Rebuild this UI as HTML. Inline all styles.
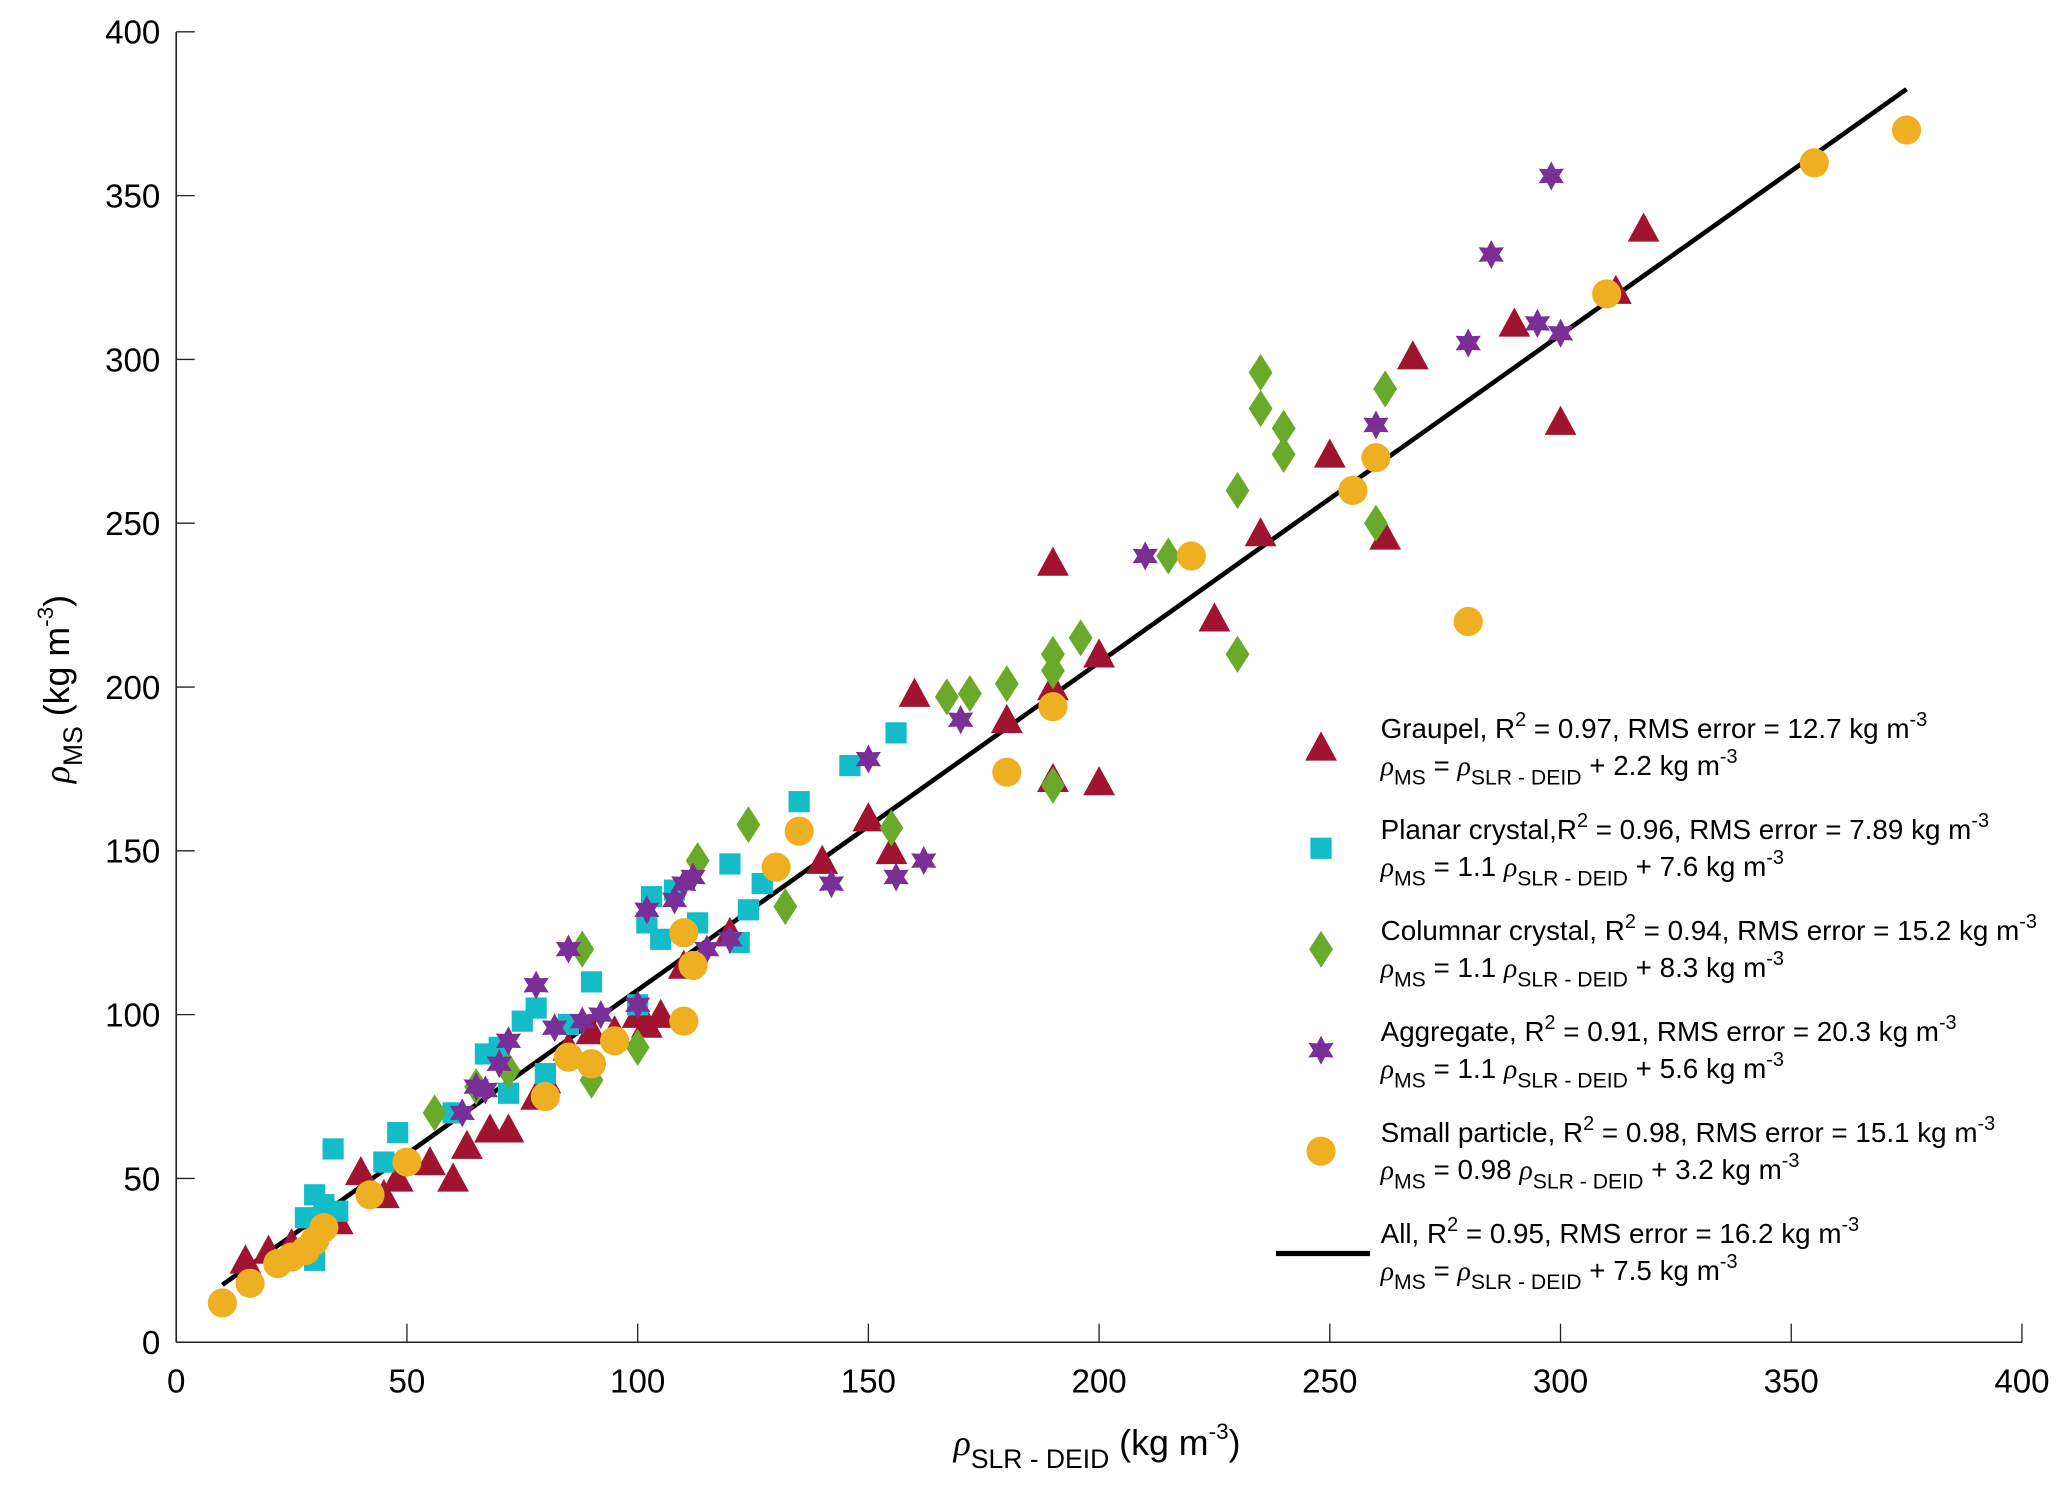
<!DOCTYPE html>
<html><head><meta charset="utf-8"><style>
html,body{margin:0;padding:0;background:#fff}
svg{display:block;font-family:"Liberation Sans",Arial,sans-serif}
</style></head><body>
<svg id="chart" width="2067" height="1488" viewBox="0 0 1560 1123" xmlns="http://www.w3.org/2000/svg">
<rect width="1560" height="1123" fill="#fff"/>
<g id="axes"></g>
<g id="fitline"></g>
<g id="marks"></g>
<text x="828" y="1098" text-anchor="middle" font-size="27"><tspan font-style="italic" font-family="Liberation Serif">ρ</tspan><tspan font-size="20" dy="10">SLR - DEID</tspan><tspan dy="-10"> (kg m</tspan><tspan font-size="17" dy="-12">-3</tspan><tspan dy="12">)</tspan></text>
<text transform="translate(52,520) rotate(-90)" text-anchor="middle" font-size="27"><tspan font-style="italic" font-family="Liberation Serif">ρ</tspan><tspan font-size="20" dy="10">MS</tspan><tspan dy="-10"> (kg m</tspan><tspan font-size="17" dy="-12">-3</tspan><tspan dy="12">)</tspan></text>
<g id="legend" font-size="21"></g>
</svg>
<script>
const xTicks=[0,50,100,150,200,250,300,350,400];
const yTicks=[0,50,100,150,200,250,300,350,400];
const graupelX=[15,20,25,30,35,40,45,48,55,60,63,68,72,78,80,85,90,95,100,102,105,110,120,140,150,155,160,180,190,190,190,200,200,225,235,250,262,268,290,300,312,318];
const graupelY=[25,28,30,35,37,52,45,50,55,50,60,65,65,75,80,90,95,95,100,97,100,115,125,147,160,150,198,190,238,200,172,210,171,221,247,271,246,301,311,281,321,340];
const planarX=[28,30,30,32,34,35,45,48,60,67,70,72,75,78,80,85,90,100,102,103,105,108,113,120,122,124,127,135,146,156];
const planarY=[38,25,45,42,59,40,55,64,70,88,90,76,98,102,82,97,110,103,128,136,123,138,128,146,122,132,140,165,176,186];
const columnarX=[56,65,72,88,90,100,113,124,132,155,167,172,180,190,190,190,196,215,230,230,235,235,240,240,260,262];
const columnarY=[70,78,83,120,80,90,147,158,133,157,197,198,201,210,205,170,215,240,260,210,296,285,279,271,250,291];
const aggX=[62,65,67,70,72,78,82,85,88,92,100,102,108,110,112,115,120,142,150,156,162,170,210,260,280,285,295,298,300];
const aggY=[70,78,77,85,92,109,96,120,98,100,103,132,135,140,142,120,123,140,178,142,147,190,240,280,305,332,311,356,308];
const smallX=[10,16,22,25,28,30,32,42,50,80,85,90,95,110,110,112,130,135,180,190,220,255,260,280,310,355,375];
const smallY=[12,18,24,26,28,31,35,45,55,75,87,85,92,98,125,115,145,156,174,194,240,260,270,220,320,360,370];
const fitX=[10,375];
const fitSlope=1.0, fitIntercept=7.5;

const NS="http://www.w3.org/2000/svg";
const X0=133,X1=1526,Y0=1013,Y1=24;
function xs(v){return X0+(v-0)/400*(X1-X0);}
function ys(v){return Y0-(v-0)/400*(Y0-Y1);}
function mk(tag,attrs,parent){const e=document.createElementNS(NS,tag);for(const k in attrs)e.setAttribute(k,attrs[k]);parent.appendChild(e);return e;}

const axes=document.getElementById('axes');
const xl=mk('line',{x1:X0,y1:Y0,x2:X1,y2:Y0,stroke:'#222','stroke-width':1.2},axes);


const yl=mk('line',{x1:X0,y1:Y0,x2:X0,y2:Y1,stroke:'#222','stroke-width':1.2},axes);


xTicks.forEach(t=>{
  mk('line',{x1:xs(t),y1:Y0,x2:xs(t),y2:Y0-14,stroke:'#222','stroke-width':1},axes);
  const tx=mk('text',{x:xs(t),y:Y0+38,'text-anchor':'middle','font-size':25},axes);
  tx.textContent=t;
  
  
});
yTicks.forEach(t=>{
  mk('line',{x1:X0,y1:ys(t),x2:X0+14,y2:ys(t),stroke:'#222','stroke-width':1},axes);
  const tx=mk('text',{x:X0-12,y:ys(t)+9,'text-anchor':'end','font-size':25},axes);
  tx.textContent=t;
  
  
});

function tri(cx,cy,p,c){return mk('polygon',{points:`${cx},${cy-12} ${cx-12},${cy+10} ${cx+12},${cy+10}`,fill:c},p);}
function sq(cx,cy,p,c){return mk('rect',{x:cx-8,y:cy-8,width:16,height:16,fill:c},p);}
function dia(cx,cy,p,c){return mk('polygon',{points:`${cx},${cy-14} ${cx+9},${cy} ${cx},${cy+14} ${cx-9},${cy}`,fill:c},p);}
function star(cx,cy,p,c){const r=11,r2=6;let pts=[];for(let i=0;i<12;i++){const a=-Math.PI/2+i*Math.PI/6;const rr=i%2?r2:r;pts.push((cx+rr*Math.cos(a)).toFixed(1)+','+(cy+rr*Math.sin(a)).toFixed(1));}return mk('polygon',{points:pts.join(' '),fill:c},p);}
function circ(cx,cy,p,c){return mk('ellipse',{cx:cx,cy:cy,rx:11,ry:11,fill:c},p);}

const marks=document.getElementById('marks');
const series=[
 ['graupel',graupelX,graupelY,tri,'#a01432'],
 ['planar',planarX,planarY,sq,'#12bcc8'],
 ['columnar',columnarX,columnarY,dia,'#6aaa2a'],
 ['aggregate',aggX,aggY,star,'#7a2f96'],
 ['small',smallX,smallY,circ,'#eeb022']];
series.forEach(s=>{
  const g=mk('g',{},marks);
  
  
  s[1].forEach((x,i)=>{
    const el=s[3](xs(x),ys(s[2][i]),g,s[4]);
    
    
  });
});
const fl=mk('line',{x1:xs(fitX[0]),y1:ys(fitSlope*fitX[0]+fitIntercept),x2:xs(fitX[1]),y2:ys(fitSlope*fitX[1]+fitIntercept),stroke:'#000','stroke-width':3.5},document.getElementById('fitline'));



const leg=document.getElementById('legend');
const R='<tspan font-style="italic" font-family="Liberation Serif">ρ</tspan>';
const MS=R+'<tspan font-size="16" dy="7">MS</tspan><tspan dy="-7"> = </tspan>';
const SLR=R+'<tspan font-size="16" dy="7">SLR - DEID</tspan><tspan dy="-7"> ';
const KG='kg m</tspan><tspan font-size="15" dy="-9">-3</tspan>';
const entries=[
 ['graupel',tri,'#a01432','Graupel, R<tspan font-size="15" dy="-9">2</tspan><tspan dy="9"> = 0.97, RMS error = 12.7 '+KG, MS+SLR+'+ 2.2 '+KG],
 ['planar',sq,'#12bcc8','Planar crystal,R<tspan font-size="15" dy="-9">2</tspan><tspan dy="9"> = 0.96, RMS error = 7.89 '+KG, MS+'<tspan>1.1 </tspan>'+SLR+'+ 7.6 '+KG],
 ['columnar',dia,'#6aaa2a','Columnar crystal, R<tspan font-size="15" dy="-9">2</tspan><tspan dy="9"> = 0.94, RMS error = 15.2 '+KG, MS+'<tspan>1.1 </tspan>'+SLR+'+ 8.3  '+KG],
 ['aggregate',star,'#7a2f96','Aggregate, R<tspan font-size="15" dy="-9">2</tspan><tspan dy="9"> = 0.91, RMS error = 20.3 '+KG, MS+'<tspan>1.1 </tspan>'+SLR+'+ 5.6 '+KG],
 ['small',circ,'#eeb022','Small particle, R<tspan font-size="15" dy="-9">2</tspan><tspan dy="9"> = 0.98, RMS error = 15.1 '+KG, MS+'<tspan>0.98 </tspan>'+SLR+'+ 3.2 '+KG],
 ['all',null,'#000','All, R<tspan font-size="15" dy="-9">2</tspan><tspan dy="9"> = 0.95, RMS error = 16.2 '+KG, MS+SLR+'+ 7.5 '+KG]];
entries.forEach((e,i)=>{
  const y=557+i*76.2;
  const g=mk('g',{},leg);
  
  
  if(e[1]) e[1](997,y+7,g,e[2]);
  else mk('line',{x1:963,y1:y+8,x2:1034,y2:y+8,stroke:'#000','stroke-width':4},g);
  const t1=mk('text',{x:1042,y:y},g); t1.innerHTML=e[3];
  const t2=mk('text',{x:1042,y:y+28},g); t2.innerHTML=e[4];
});
</script>
</body></html>
